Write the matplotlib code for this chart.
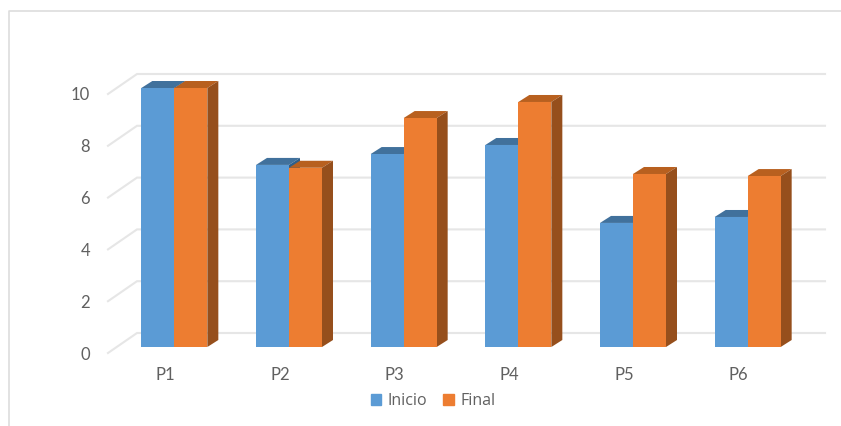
import matplotlib
import matplotlib.pyplot as plt
from matplotlib.lines import Line2D
from matplotlib.patches import Patch, Polygon

matplotlib.use("agg")

categories = ["P1", "P2", "P3", "P4", "P5", "P6"]
inicio = [10, 7.03, 7.45, 7.8, 4.79, 5.02]
final = [10, 6.92, 8.84, 9.46, 6.68, 6.6]
y_ticks = [0, 2, 4, 6, 8, 10]

W, H = 841, 426
TEXT = "#606060"
GRID = "#e6e6e6"

plt.rcParams["font.family"] = ["Lato", "DejaVu Sans"]

fig = plt.figure(figsize=(W / 100, H / 100), dpi=100)
# front plane of the fake 3d box, given in pixels
left, right, top, bottom = 108, 796, 94, 353
ax = fig.add_axes([left / W, 1 - bottom / H, (right - left) / W, (bottom - top) / H])
ax.set_xlim(-0.5, 5.5)
ax.set_ylim(0, 10)
for s in ax.spines.values():
    s.set_visible(False)

px_x = 6 / (right - left)
px_y = 10 / (bottom - top)

# back wall and floor offsets
wall_dx, wall_dy = 29 * px_x, 20 * px_y
for v in y_ticks:
    ax.plot([-0.5, -0.5 + wall_dx, 5.5 + wall_dx], [v, v + wall_dy, v + wall_dy],
            color=GRID, lw=1.5, clip_on=False, zorder=1, solid_joinstyle="miter")

bar_w = 33 * px_x
shift = 9 * px_x
floor = 6 * px_y
dx, dy = 11 * px_x, 7 * px_y


def draw_series(values, offset, front, roof, side, z):
    xs = [i + shift + offset for i in range(len(values))]
    ax.bar(xs, values, width=bar_w, bottom=floor, color=front, clip_on=False, zorder=z + 0.2)
    for x, v in zip(xs, values):
        x0, x1 = x - bar_w / 2, x + bar_w / 2
        y0, y1 = floor, floor + v
        ax.add_patch(Polygon([(x0, y1), (x1, y1), (x1 + dx, y1 + dy), (x0 + dx, y1 + dy)],
                             color=roof, lw=0, clip_on=False, zorder=z))
        ax.add_patch(Polygon([(x1, y0), (x1, y1), (x1 + dx, y1 + dy), (x1 + dx, y0 + dy)],
                             color=side, lw=0, clip_on=False, zorder=z))


draw_series(inicio, -bar_w / 2, "#5b9bd5", "#41719c", "#2f5f8a", 2)
draw_series(final, bar_w / 2, "#ed7d31", "#b8601f", "#964f1c", 3)

ax.set_xticks(range(len(categories)), categories)
ax.set_yticks(y_ticks)
ax.tick_params(length=0, colors=TEXT, labelsize=12)
ax.tick_params(axis="x", pad=10)
ax.tick_params(axis="y", pad=13)

handles = [Patch(color="#5b9bd5", label="Inicio"), Patch(color="#ed7d31", label="Final")]
fig.legend(handles=handles, loc="center", bbox_to_anchor=(433 / W, 1 - 401 / H), ncol=2,
           frameon=False, prop={"family": "Open Sans", "size": 11.5}, labelcolor=TEXT,
           handlelength=0.65, handleheight=0.65, handletextpad=0.4, columnspacing=1.0)

# outer chart frame, open on the right and at the bottom
fig.add_artist(Line2D([9 / W, 9 / W, 1], [0, 1 - 11 / H, 1 - 11 / H], color="#dddddd", lw=1.2))

fig.savefig("out.png", dpi=100)
plt.close(fig)
